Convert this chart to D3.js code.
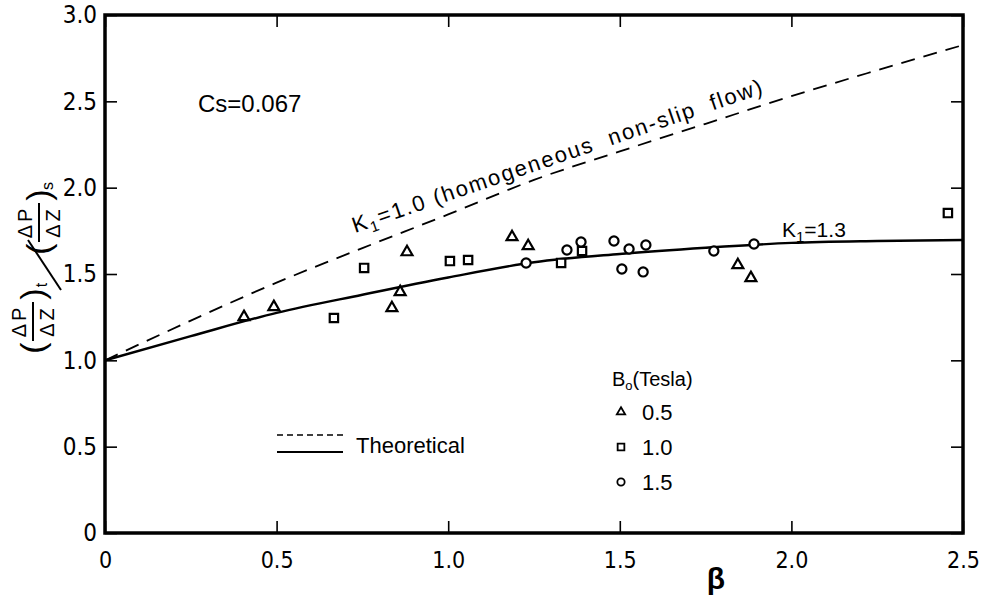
<!DOCTYPE html>
<html>
<head>
<meta charset="utf-8">
<script src="https://cdn.jsdelivr.net/npm/d3@7"></script>
<style>
  body { margin: 0; background: #fff; }
  text { font-family: "Liberation Sans", Arial, sans-serif; fill: #000; }
  .tick text { font-family: "Liberation Sans Narrow", "DejaVu Sans Condensed", sans-serif; }
</style>
</head>
<body>
<script>
// axis ticks
const xTicks = [0, 0.5, 1.0, 1.5, 2.0, 2.5];
const xTickLabels = ['0', '0.5', '1.0', '1.5', '2.0', '2.5'];
const yTicks = [0, 0.5, 1.0, 1.5, 2.0, 2.5, 3.0];
const yTickLabels = ['0', '0.5', '1.0', '1.5', '2.0', '2.5', '3.0'];

// theoretical curves
const curveX = [0, 0.25, 0.5, 0.75, 1.0, 1.25, 1.5, 1.75, 2.0, 2.25, 2.5];
const homogeneousY = [1.0, 1.23, 1.45, 1.65, 1.845, 2.045, 2.21, 2.37, 2.53, 2.68, 2.826]; // K1 = 1.0
const slipY = [1.0, 1.14, 1.275, 1.38, 1.48, 1.568, 1.616, 1.652, 1.68, 1.691, 1.697];      // K1 = 1.3

// measured points, B0 = 0.5 T (triangles)
const triX = [0.405, 0.492, 0.836, 0.86, 0.88, 1.186, 1.233, 1.844, 1.882];
const triY = [1.251, 1.309, 1.303, 1.396, 1.627, 1.714, 1.662, 1.552, 1.477];
// B0 = 1.0 T (squares)
const sqX = [0.667, 0.755, 1.005, 1.058, 1.329, 1.39, 2.456];
const sqY = [1.245, 1.535, 1.575, 1.581, 1.564, 1.633, 1.853];
// B0 = 1.5 T (circles)
const circX = [1.227, 1.346, 1.387, 1.483, 1.506, 1.527, 1.568, 1.576, 1.774, 1.891];
const circY = [1.564, 1.639, 1.685, 1.691, 1.529, 1.645, 1.512, 1.668, 1.633, 1.674];

const legendLabels = ['0.5', '1.0', '1.5'];

const width = 985, height = 597;
const svg = d3.select('body').append('svg')
    .attr('width', width)
    .attr('height', height);

const x = d3.scaleLinear().domain([0, 2.5]).range([105, 963]);
const y = d3.scaleLinear().domain([0, 3]).range([533, 15]);

// axes, ticks pointing inward
function styleAxis(g) {
    g.select('.domain').remove();
    g.selectAll('.tick line').attr('stroke', '#000').attr('stroke-width', 1.6);
}

svg.append('g')
    .attr('transform', 'translate(0,533)')
    .call(d3.axisBottom(x).tickValues(xTicks).tickFormat((d, i) => xTickLabels[i])
        .tickSizeInner(-12).tickSizeOuter(0).tickPadding(19))
    .call(styleAxis)
    .selectAll('text').attr('font-size', 23);

svg.append('g')
    .attr('transform', 'translate(105,0)')
    .call(d3.axisLeft(y).tickValues(yTicks).tickFormat((d, i) => yTickLabels[i])
        .tickSizeInner(-12).tickSizeOuter(0).tickPadding(8))
    .call(styleAxis)
    .selectAll('text').attr('font-size', 24);

svg.append('g')
    .attr('transform', 'translate(0,15)')
    .call(d3.axisTop(x).tickValues(xTicks).tickFormat('').tickSizeInner(-12).tickSizeOuter(0))
    .call(styleAxis);

svg.append('g')
    .attr('transform', 'translate(963,0)')
    .call(d3.axisRight(y).tickValues(yTicks).tickFormat('').tickSizeInner(-12).tickSizeOuter(0))
    .call(styleAxis);

// frame
svg.append('rect')
    .attr('x', x(0)).attr('y', y(3))
    .attr('width', x(2.5) - x(0)).attr('height', y(0) - y(3))
    .attr('fill', 'none').attr('stroke', '#000').attr('stroke-width', 3.5);

// curves
const line = d3.line()
    .x((d, i) => x(curveX[i]))
    .y(d => y(d))
    .curve(d3.curveMonotoneX);

svg.append('path')
    .datum(homogeneousY)
    .attr('fill', 'none')
    .attr('stroke', '#000')
    .attr('stroke-width', 1.8)
    .attr('stroke-dasharray', '14,9')
    .attr('d', line);

svg.append('path')
    .datum(slipY)
    .attr('fill', 'none')
    .attr('stroke', '#000')
    .attr('stroke-width', 2.4)
    .attr('d', line);

// markers
const tri = d3.symbol().type(d3.symbolTriangle);
const sq = d3.symbol().type(d3.symbolSquare);
const circ = d3.symbol().type(d3.symbolCircle);

function drawMarkers(xs, ys, sym, size) {
    svg.append('g').selectAll('path')
        .data(xs)
        .join('path')
        .attr('transform', (d, i) => `translate(${x(d)},${y(ys[i])})`)
        .attr('d', sym.size(size)())
        .attr('fill', '#fff')
        .attr('stroke', '#000')
        .attr('stroke-width', 2.2);
}
drawMarkers(triX, triY, tri, 52);
drawMarkers(sqX, sqY, sq, 70);
drawMarkers(circX, circY, circ, 66);

// annotations
svg.append('text')
    .attr('x', 198).attr('y', 112)
    .attr('font-size', 24)
    .text('Cs=0.067');

const k10 = svg.append('text')
    .attr('transform', 'translate(355,233) rotate(-18.9)')
    .attr('font-size', 22)
    .attr('textLength', 432)
    .attr('lengthAdjust', 'spacing')
    .style('white-space', 'pre');
k10.append('tspan').text('K');
k10.append('tspan').attr('dy', 5).attr('font-size', 15).text('1');
k10.append('tspan').attr('dy', -5).text('=1.0 (homogeneous  non-slip  flow)');

const k13 = svg.append('text')
    .attr('x', 782).attr('y', 237)
    .attr('font-size', 21);
k13.append('tspan').text('K');
k13.append('tspan').attr('dy', 5).attr('font-size', 15).text('1');
k13.append('tspan').attr('dy', -5).text('=1.3');

// theoretical legend
svg.append('line')
    .attr('x1', 277).attr('x2', 343).attr('y1', 435).attr('y2', 435)
    .attr('stroke', '#000').attr('stroke-width', 1.5).attr('stroke-dasharray', '6,4');
svg.append('line')
    .attr('x1', 277).attr('x2', 343).attr('y1', 452).attr('y2', 452)
    .attr('stroke', '#000').attr('stroke-width', 2);
svg.append('text')
    .attr('x', 356).attr('y', 453)
    .attr('font-size', 22)
    .text('Theoretical');

// field strength legend
const head = svg.append('text')
    .attr('x', 612).attr('y', 386)
    .attr('font-size', 20);
head.append('tspan').text('B');
head.append('tspan').attr('dy', 4).attr('font-size', 13).text('o');
head.append('tspan').attr('dy', -4).text('(Tesla)');

const legendSyms = [tri, sq, circ];
const legendSizes = [30, 45, 42];
legendLabels.forEach((lab, i) => {
    const cy = 412 + i * 35;
    svg.append('path')
        .attr('transform', `translate(621,${cy})`)
        .attr('d', legendSyms[i].size(legendSizes[i])())
        .attr('fill', '#fff').attr('stroke', '#000').attr('stroke-width', 1.8);
    svg.append('text')
        .attr('x', 642).attr('y', cy + 8)
        .attr('font-size', 22)
        .text(lab);
});

// x axis title
svg.append('text')
    .attr('x', 716).attr('y', 589)
    .attr('text-anchor', 'middle')
    .attr('font-size', 30)
    .attr('font-weight', 'bold')
    .text('β');

// y axis title: (ΔP/ΔZ)t / (ΔP/ΔZ)s, rotated
function rotText(px, py, str, size) {
    return svg.append('text')
        .attr('transform', `translate(${px},${py}) rotate(-90)`)
        .attr('text-anchor', 'middle')
        .attr('font-size', size)
        .text(str);
}
function fraction(cx, cy, sub) {
    rotText(cx + 13, cy + 27, '(', 34);
    rotText(cx - 5, cy, 'ΔP', 20).attr('letter-spacing', 3);
    svg.append('line')
        .attr('x1', cx + 2).attr('x2', cx + 2).attr('y1', cy - 19).attr('y2', cy + 20)
        .attr('stroke', '#000').attr('stroke-width', 2);
    rotText(cx + 23, cy, 'ΔZ', 20).attr('letter-spacing', 3);
    rotText(cx + 13, cy - 27, ')', 34);
    rotText(cx + 16, cy - 36, sub, 16);
}
fraction(31, 321, 't');
svg.append('line')
    .attr('x1', 61).attr('y1', 290).attr('x2', 28).attr('y2', 240)
    .attr('stroke', '#000').attr('stroke-width', 2);
fraction(37, 222, 's');
</script>
</body>
</html>
